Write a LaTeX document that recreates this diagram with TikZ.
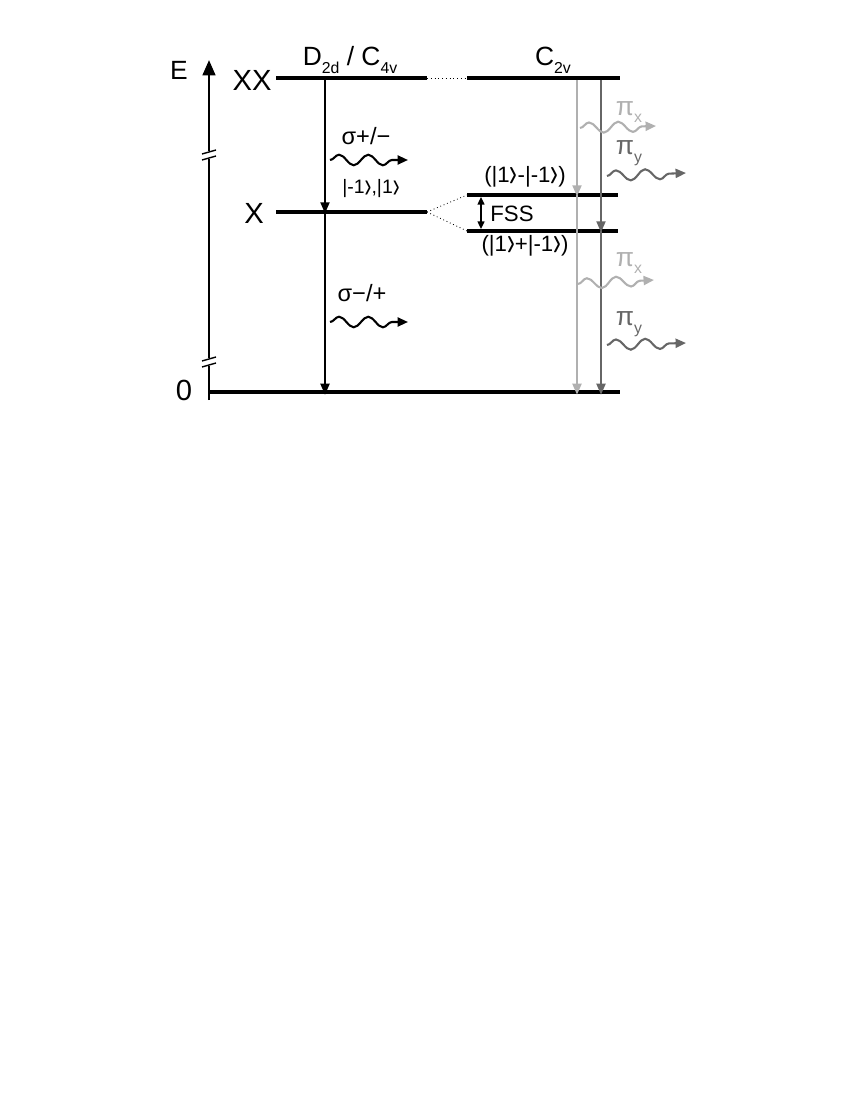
\documentclass[tikz,border=0pt]{standalone}
\usepackage{fontspec}
\setmainfont{Liberation Sans}
\usetikzlibrary{arrows.meta,decorations.pathmorphing}
\definecolor{lgray}{HTML}{B0B0B0}
\definecolor{dgray}{HTML}{666666}
\newcommand{\rang}{\raisebox{-0.17em}{\scalebox{1.05}[1.85]{›}}}
\newcommand{\ket}[1]{|#1\rang}
\newcommand{\sub}[1]{\raisebox{-0.3em}{\scalebox{0.6}{#1}}}
\tikzset{
  level/.style={line width=2.2pt},
  trans/.style={line width=1.4pt,-{Triangle[length=8pt,width=6.5pt]}},
  wave/.style={line width=1.5pt,decorate,decoration={snake,segment length=21pt,amplitude=3.8pt,post length=6pt},-{Triangle[length=7.5pt,width=6.5pt]}},
  lbl/.style={inner sep=0pt,anchor=center},
}
\begin{document}
\begin{tikzpicture}[x=0.72pt,y=-0.72pt]
\useasboundingbox (0,0) rectangle (850,1100);
% coordinates
\coordinate (XXl) at (276,78);
\coordinate (XXm) at (427,78);
\coordinate (XXc) at (467,78);
\coordinate (XXr) at (620,78);
\coordinate (Xl) at (276,212);
\coordinate (Xm) at (427,212);
\coordinate (Xu) at (467,195);
\coordinate (Xur) at (618,195);
\coordinate (Xd) at (467,231);
\coordinate (Xdr) at (618,231);
\coordinate (Gl) at (209,392);
\coordinate (Gr) at (620,392);
\coordinate (Ab) at (209,400);
\coordinate (At) at (209,60);
% axis
\draw[line width=2pt,-{Triangle[length=11pt,width=9pt]}] (Ab) -- (At);
\foreach \yy/\nm in {155/b1,362/b2}{
  \fill[white] (203,\yy-4) rectangle (215,\yy+4);
  \draw[line width=1pt] (202,\yy-1) -- (216,\yy-5);
  \draw[line width=1pt] (202,\yy+5) -- (216,\yy+1);
}
% levels
\draw[level] (XXl) -- (XXm);
\draw[level] (XXc) -- (XXr);
\draw[line width=0.7pt,dotted] (XXm) -- (XXc);
\draw[level] (Xl) -- (Xm);
\draw[line width=0.6pt,dotted] (Xm) -- (Xu);
\draw[line width=0.6pt,dotted] (Xm) -- (Xd);
\draw[level] (Xu) -- (Xur);
\draw[level] (Xd) -- (Xdr);
\draw[level] (Gl) -- (Gr);
% labels
\node[lbl,font=\fontsize{19}{19}\selectfont] (E) at (179,70) {E};
\node[lbl,font=\fontsize{21}{21}\selectfont] (XX) at (252,80) {XX};
\node[lbl,font=\fontsize{21}{21}\selectfont] (X) at (254,213) {X};
\node[lbl,font=\fontsize{21}{21}\selectfont] (Z) at (184,390) {0};
\node[lbl,font=\fontsize{19}{19}\selectfont] (D) at (350,60) {D\sub{2d} / C\sub{4v}};
\node[lbl,font=\fontsize{19}{19}\selectfont] (C) at (553,60) {C\sub{2v}};
% D2d transitions
\coordinate (a1) at (325,78);
\coordinate (a2) at (325,212);
\coordinate (a3) at (325,392);
\draw[trans] (a1) -- ([yshift=-1pt]a2);
\draw[trans] (a2) -- ([yshift=-2pt]a3);
\node[lbl,font=\fontsize{17}{17}\selectfont] (s1) at (366,136) {σ+/−};
\node[lbl,font=\fontsize{14}{14}\selectfont] (k1) at (371,189) {\ket{-1},\ket{1}};
\node[lbl,font=\fontsize{17}{17}\selectfont] (s2) at (362,293) {σ−/+};
\coordinate (w1a) at (330,160); \coordinate (w1b) at (408,160);
\coordinate (w2a) at (330,322); \coordinate (w2b) at (408,322);
\draw[wave] (w1a) -- (w1b);
\draw[wave] (w2a) -- (w2b);
% C2v transitions
\coordinate (L1) at (577,80); \coordinate (L2) at (577,195); \coordinate (L3) at (577,392);
\coordinate (D1) at (601,80); \coordinate (D2) at (601,231); \coordinate (D3) at (601,392);
\draw[trans,lgray] (L1) -- ([yshift=-1pt]L2);
\draw[trans,lgray] (L2) -- ([yshift=-2pt]L3);
\draw[trans,dgray] (D1) -- ([yshift=-1pt]D2);
\draw[trans,dgray] (D2) -- ([yshift=-2pt]D3);
\coordinate (p1a) at (580,128); \coordinate (p1b) at (656,126);
\coordinate (p2a) at (607,176); \coordinate (p2b) at (686,173);
\coordinate (p3a) at (578,284); \coordinate (p3b) at (654,280);
\coordinate (p4a) at (607,345); \coordinate (p4b) at (686,343);
\draw[wave,lgray] (p1a) -- (p1b);
\draw[wave,dgray] (p2a) -- (p2b);
\draw[wave,lgray] (p3a) -- (p3b);
\draw[wave,dgray] (p4a) -- (p4b);
\node[lbl,font=\fontsize{19}{19}\selectfont,text=lgray] (px1) at (629,112) {π\sub{x}};
\node[lbl,font=\fontsize{19}{19}\selectfont,text=dgray] (py1) at (629,153) {π\sub{y}};
\node[lbl,font=\fontsize{19}{19}\selectfont,text=lgray] (px2) at (629,263) {π\sub{x}};
\node[lbl,font=\fontsize{19}{19}\selectfont,text=dgray] (py2) at (629,324) {π\sub{y}};
% FSS
\coordinate (f1) at (481,197); \coordinate (f2) at (481,229);
\draw[line width=1pt,{Triangle[length=5.5pt,width=5pt]}-{Triangle[length=5.5pt,width=5pt]}] (f1) -- (f2);
\node[lbl,font=\fontsize{16}{16}\selectfont] (fss) at (512,214) {FSS};
\node[lbl,font=\fontsize{16}{16}\selectfont] (k2) at (525,177) {(\ket{1}-\ket{-1})};
\node[lbl,font=\fontsize{16}{16}\selectfont] (k3) at (525,246) {(\ket{1}+\ket{-1})};
\end{tikzpicture}
\end{document}
